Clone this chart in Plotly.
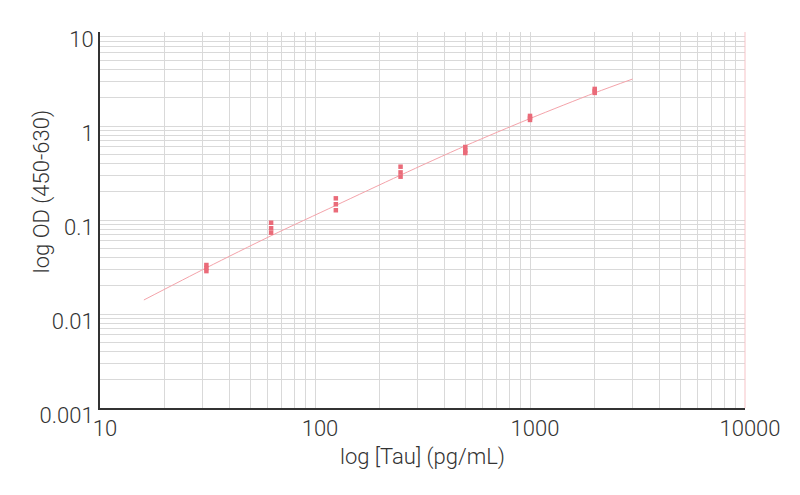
import plotly.graph_objects as go

# Standard concentrations (pg/mL) and replicate OD readings
conc = [31.25, 62.5, 125, 250, 500, 1000, 2000]
rep1 = [0.0332, 0.0935, 0.170, 0.369, 0.598, 1.28, 2.48]
rep2 = [0.0308, 0.0817, 0.147, 0.321, 0.548, 1.22, 2.36]
rep3 = [0.0286, 0.0733, 0.127, 0.289, 0.516, 1.16, 2.25]

# Fitted standard curve
fit_x = [16, 31.25, 62.5, 125, 250, 500, 1000, 2000, 3000]
fit_y = [0.0141, 0.031, 0.068, 0.143, 0.30, 0.615, 1.2, 2.25, 3.16]

x_ticks = [10, 100, 1000, 10000]
x_labels = ["10", "100", "1000", "10000"]
y_ticks = [0.001, 0.01, 0.1, 1, 10]
y_labels = ["0.001", "0.01", "0.1", "1", "10"]

line_color = "#f4a3aa"
marker_color = "#ea6b79"
grid_color = "#d9d9d9"
font_family = "Roboto"
txt_color = "#333333"
fs = 22

fig = go.Figure()
fig.add_trace(go.Scatter(
    x=fit_x, y=fit_y, mode="lines",
    line=dict(color=line_color, width=1, shape="spline", smoothing=0.8),
    hoverinfo="skip", showlegend=False,
))
pts_x = conc * 3
pts_y = rep1 + rep2 + rep3
fig.add_trace(go.Scatter(
    x=pts_x, y=pts_y, mode="markers",
    marker=dict(symbol="square", size=4.5, color=marker_color, line=dict(width=0)),
    showlegend=False,
))

fig.add_shape(type="line", xref="x domain", yref="y domain", layer="above",
              x0=1, x1=1, y0=0, y1=1, line=dict(color="#f6c3c7", width=1))

fig.add_annotation(
    text="log OD (450-630)", textangle=-90,
    xref="paper", yref="paper", x=0, y=0.574,
    xanchor="center", yanchor="middle", xshift=-58, showarrow=False,
    font=dict(size=fs, family=font_family, color=txt_color, weight=300),
)

fig.update_layout(
    width=792, height=487,
    margin=dict(l=92, r=55, t=24, b=87),
    paper_bgcolor="white", plot_bgcolor="white",
    font=dict(family=font_family, color=txt_color, size=fs, weight=300),
)
fig.update_xaxes(
    type="log", range=[1, 4], automargin=False,
    tickvals=x_ticks, ticktext=x_labels, ticks="",
    showgrid=True, gridcolor=grid_color, gridwidth=1,
    minor=dict(dtick="D1", showgrid=True, gridcolor=grid_color, gridwidth=1, ticks=""),
    showline=True, linecolor=txt_color, linewidth=2,
    zeroline=False,
    ticklabelshift=5,
    tickfont=dict(size=fs, family=font_family, color=txt_color, weight=300),
    title=dict(text="log [Tau] (pg/mL)", standoff=8,
               font=dict(size=fs, family=font_family, color=txt_color, weight=300)),
)
fig.update_yaxes(
    type="log", range=[-3, 1], automargin=False,
    tickvals=y_ticks, ticktext=y_labels, ticks="",
    showgrid=True, gridcolor=grid_color, gridwidth=1,
    minor=dict(dtick="D1", showgrid=True, gridcolor=grid_color, gridwidth=1, ticks=""),
    showline=True, linecolor=txt_color, linewidth=2,
    zeroline=False,
    ticklabelshift=7,
    tickfont=dict(size=fs, family=font_family, color=txt_color, weight=300),
)

fig.write_html("out.html")
